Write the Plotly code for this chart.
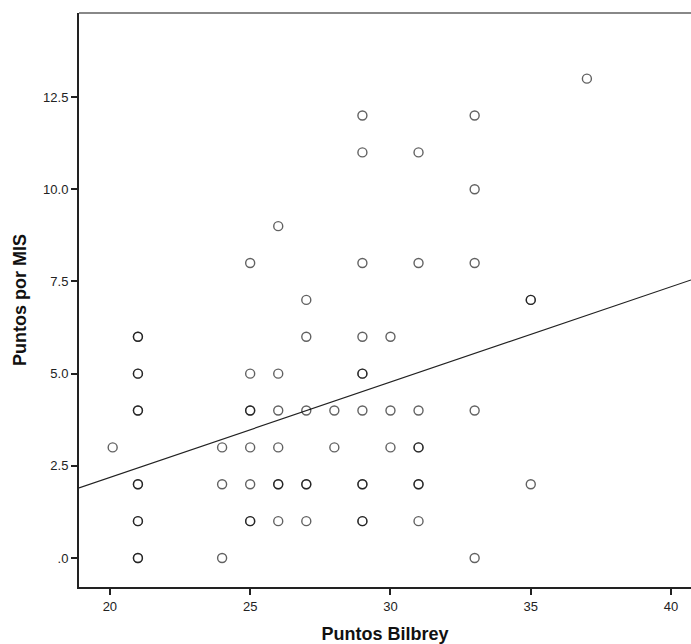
import plotly.graph_objects as go

# Data (duplicates drawn as overlapping points)
bilbrey = [20.1,
           21, 21, 21, 21, 21, 21, 21, 21, 21, 21, 21, 21,
           24, 24, 24,
           25, 25, 25, 25, 25, 25, 25, 25,
           26, 26, 26, 26, 26, 26, 26,
           27, 27, 27, 27, 27, 27,
           28, 28,
           29, 29, 29, 29, 29, 29, 29, 29, 29, 29, 29,
           30, 30, 30,
           31, 31, 31, 31, 31, 31, 31, 31,
           33, 33, 33, 33, 33,
           35, 35, 35,
           37]
mis = [3,
       6, 6, 5, 5, 4, 4, 2, 2, 1, 1, 0, 0,
       3, 2, 0,
       8, 5, 4, 4, 3, 2, 1, 1,
       9, 5, 4, 3, 2, 2, 1,
       7, 6, 4, 2, 2, 1,
       4, 3,
       12, 11, 8, 6, 5, 5, 4, 2, 2, 1, 1,
       6, 4, 3,
       11, 8, 4, 3, 3, 2, 2, 1,
       12, 10, 8, 4, 0,
       7, 7, 2,
       13]

# Fit line
fit_x = [18.9, 40.71]
fit_y = [1.90, 7.54]

x_range = [18.9, 40.71]
y_range = [-0.786, 14.78]
x_ticks = [20, 25, 30, 35, 40]
y_ticks = [0, 2.5, 5.0, 7.5, 10.0, 12.5]
y_ticktext = [".0", "2.5", "5.0", "7.5", "10.0", "12.5"]

fig = go.Figure()
fig.add_trace(go.Scatter(
    x=fit_x, y=fit_y, mode="lines",
    line=dict(color="#222222", width=1.2), showlegend=False, hoverinfo="skip"))
fig.add_trace(go.Scatter(
    x=bilbrey, y=mis, mode="markers",
    marker=dict(symbol="circle-open", size=9,
                line=dict(width=1.4, color="rgba(0,0,0,0.62)"),
                color="rgba(0,0,0,0.62)"),
    showlegend=False))

fig.update_layout(
    width=691, height=644,
    margin=dict(l=79, r=0, t=13, b=57),
    plot_bgcolor="white", paper_bgcolor="white",
    font=dict(family="Liberation Sans, Arial, sans-serif", size=13, color="#222222"),
    xaxis=dict(range=x_range, tickvals=x_ticks, ticks="outside", ticklen=6,
               tickwidth=1.5, tickcolor="#222222",
               showline=True, linecolor="#222222", linewidth=2,
               showgrid=False, zeroline=False,
               title=dict(text="<b>Puntos Bilbrey</b>", font=dict(size=18, color="#111111"),
                          standoff=16)),
    yaxis=dict(range=y_range, tickvals=y_ticks, ticktext=y_ticktext,
               ticks="outside", ticklen=6, tickwidth=1.5, tickcolor="#222222",
               showline=True, linecolor="#222222", linewidth=2,
               showgrid=False, zeroline=False,
               title=dict(text="<b>Puntos por MIS</b>", font=dict(size=18, color="#111111"),
                          standoff=12)),
    shapes=[dict(type="line", xref="paper", yref="paper", x0=0, x1=1, y0=1, y1=1,
                 line=dict(color="#888888", width=2))],
)

fig.write_html("out.html")
